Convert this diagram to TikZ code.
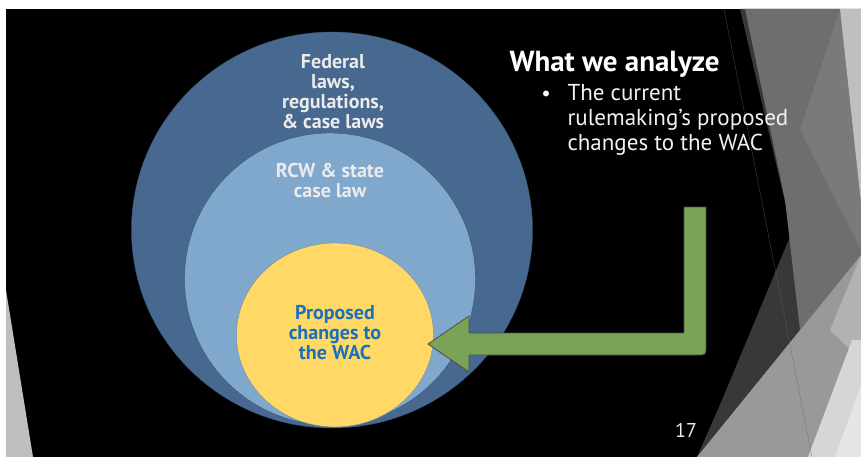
\documentclass[tikz,border=0pt]{standalone}
\usepackage{fontspec}
\setmainfont{PT Sans}
\usetikzlibrary{shapes.geometric}

\definecolor{fedblue}{RGB}{71,104,143}
\definecolor{rcwblue}{RGB}{128,167,204}
\definecolor{wacyellow}{RGB}{255,216,102}
\definecolor{wactext}{RGB}{26,112,189}
\definecolor{arrowgreen}{RGB}{122,163,88}

\begin{document}
\begin{tikzpicture}[x=1pt,y=-1pt,
    ring/.style={ellipse, inner sep=0pt},
    ringtext/.style={text=white!92!black, align=center,
      font=\bfseries\fontsize{20}{20}\selectfont},
    facet/.style={fill=#1}]
    \useasboundingbox (0,0) rectangle (861,457);
    % slide background
    \fill[white] (0,0) rectangle (861,457);
    \fill[black] (6,9) rectangle (861,457);

    % grey facets, left and right
    \fill[facet=gray!50] (6,290) -- (33,457) -- (6,457) -- cycle;
    \fill[facet=black!78] (740,9) -- (861,9) -- (861,457) -- (697,457) -- (722,400) -- (792,232) -- cycle;
    \fill[facet=black!57] (745,9) -- (840,9) -- (861,60) -- (861,255) -- (800,330) -- (785,200) -- cycle;
    \fill[facet=black!52] (840,9) -- (861,203) -- (861,250) -- (800,130) -- cycle;
    \fill[facet=gray!50] (840,9) -- (861,9) -- (861,203) -- cycle;
    \fill[facet=black!40] (697,457) -- (861,255) -- (861,457) -- cycle;
    \fill[facet=black!30] (861,255) -- (861,360) -- (830,330) -- cycle;
    \fill[facet=black!16] (808,457) -- (852,340) -- (861,340) -- (861,457) -- cycle;
    \fill[facet=black!10] (835,457) -- (861,385) -- (861,457) -- cycle;
    \draw[black!60, very thin] (724,9) -- (812,457);

    % nested scopes of law
    \node[ring, fill=fedblue, draw=fedblue!85!black, minimum width=401pt, minimum height=396pt] (fed) at (332,230) {};
    \node[ring, fill=rcwblue, draw=fedblue!80!black, minimum width=291pt, minimum height=292pt] (rcw) at (330,279) {};
    \node[ring, fill=wacyellow, draw=rcwblue!85!black, minimum width=197pt, minimum height=184pt] (wac) at (335,335) {};

    \node[ringtext] (fedtext) at (333,92) {Federal\\laws,\\regulations,\\\& case laws};
    \node[ringtext] (rcwtext) at (330,180) {RCW \& state\\case law};
    \node[ringtext, text=wactext] (wactxt) at (335,333) {Proposed\\changes to\\the WAC};

    % heading and bullet
    \node[anchor=west, text=white, font=\bfseries\fontsize{29}{32}\selectfont] (head) at (506,64) {What we analyze};
    \node[anchor=north west, text=white!95!black, align=left, font=\fontsize{23}{25}\selectfont] (bullet) at (564,81) {The current\\rulemaking’s proposed\\changes to the WAC};
    \node[text=white, font=\fontsize{21}{25}\selectfont, anchor=base] (dot) at (546,101) {•};

    % green elbow arrow into the WAC
    \coordinate (tip) at (428,344);
    \draw[fill=arrowgreen, draw=black!70, line width=0.8pt]
      (tip) -- (469,316) -- (469,333) -- (684,333) -- (684,207) -- (706,207)
      -- (706,346) .. controls (706,355) .. (697,355) -- (469,355) -- (469,372) -- cycle;

    % slide number
    \node[text=white!92!black, font=\fontsize{20}{22}\selectfont] (num) at (686,430) {17};
\end{tikzpicture}
\end{document}
